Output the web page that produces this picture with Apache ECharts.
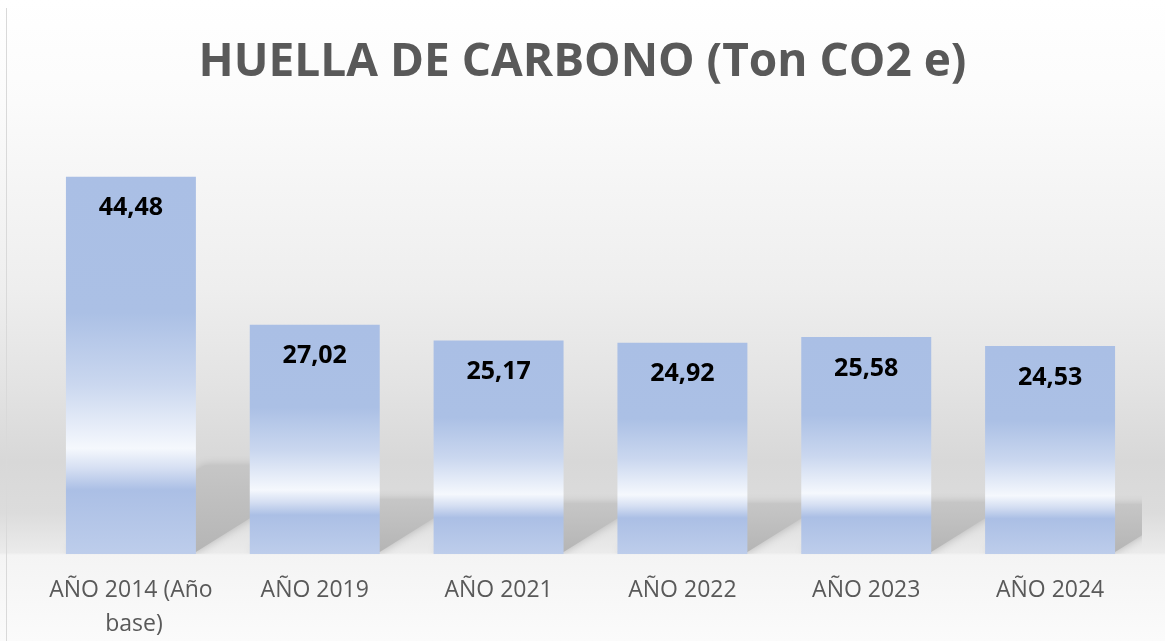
<!DOCTYPE html>
<html>
<head>
<meta charset="utf-8">
<script src="https://cdn.jsdelivr.net/npm/echarts@6/dist/echarts.min.js"></script>
<style>
  html, body { margin: 0; padding: 0; background: #ffffff; }
  #chart { width: 1165px; height: 641px; }
</style>
</head>
<body>
<div id="chart"></div>
<script>
const titleText = 'HUELLA DE CARBONO (Ton CO2 e)';
const categories = ['AÑO 2014 (Año base)', 'AÑO 2019', 'AÑO 2021', 'AÑO 2022', 'AÑO 2023', 'AÑO 2024'];
const values = [44.48, 27.02, 25.17, 24.92, 25.58, 24.53];
const axisMin = 0;
const axisMax = 50;

const chart = echarts.init(document.getElementById('chart'), null, { renderer: 'canvas' });

const barFill = new echarts.graphic.LinearGradient(0, 0, 0, 1, [
  { offset: 0, color: '#aabfe5' },
  { offset: 0.36, color: '#abc0e5' },
  { offset: 0.55, color: '#cad7ef' },
  { offset: 0.72, color: '#f5f8fd' },
  { offset: 0.775, color: '#d4def2' },
  { offset: 0.83, color: '#abbfe5' },
  { offset: 1, color: '#bdcdeb' }
]);

const BAR_RATIO = 0.707;

const option = {
  animation: false,
  graphic: [
    {
      type: 'rect', z: -100, silent: true,
      shape: { x: 0, y: 0, width: 1165, height: 641 },
      style: {
        fill: new echarts.graphic.LinearGradient(0, 0, 0, 1, [
          { offset: 0, color: '#ffffff' },
          { offset: 0.16, color: '#fbfbfb' },
          { offset: 0.45, color: '#eeeeee' },
          { offset: 0.6, color: '#e3e3e3' },
          { offset: 0.72, color: '#d8d8d8' },
          { offset: 0.8, color: '#dcdcdc' },
          { offset: 0.862, color: '#ebebeb' },
          { offset: 0.866, color: '#f4f4f4' },
          { offset: 1, color: '#fbfbfb' }
        ])
      }
    },
    {
      type: 'line', z: -99, silent: true,
      shape: { x1: 6.5, y1: 8, x2: 6.5, y2: 641 },
      style: { stroke: '#d9d9d9', lineWidth: 1 }
    }
  ],
  title: {
    text: titleText,
    left: 'center',
    top: 35,
    textStyle: {
      fontFamily: 'Open Sans',
      fontWeight: 'bold',
      fontSize: 46,
      color: '#595959'
    }
  },
  grid: { left: 39, right: 23, top: 130, bottom: 87, containLabel: false },
  xAxis: {
    type: 'category',
    data: categories,
    axisLine: { show: false },
    axisTick: { show: false },
    splitLine: { show: false },
    axisLabel: {
      interval: 0,
      margin: 19,
      fontFamily: 'Open Sans',
      fontSize: 23,
      lineHeight: 34,
      color: '#595959',
      width: 180,
      overflow: 'break'
    }
  },
  yAxis: {
    type: 'value',
    min: axisMin,
    max: axisMax,
    show: false,
    splitLine: { show: false }
  },
  series: [
    {
      type: 'custom',
      z: 1,
      silent: true,
      clip: true,
      data: values.map((v, i) => [i, v]),
      renderItem: function (params, api) {
        const idx = api.value(0);
        const v = api.value(1);
        const base = api.coord([idx, 0]);
        const top = api.coord([idx, v]);
        const band = api.size([1, 0])[0];
        const w = band * BAR_RATIO;
        const xL = base[0] - w / 2;
        const xR = base[0] + w / 2;
        const h = base[1] - top[1];
        const hs = h * 0.23;
        const sk = hs * 1.6;
        const b = base[1] - 2;
        return {
          type: 'polygon',
          shape: { points: [[xL, b], [xR, b], [xR + sk, b - hs], [xL + sk, b - hs]] },
          style: {
            fill: new echarts.graphic.LinearGradient(0, 0, 0, 1, [
              { offset: 0, color: '#c6c6c6' },
              { offset: 1, color: '#b5b5b5' }
            ]),
            shadowBlur: 10,
            shadowColor: 'rgba(175,175,175,0.9)'
          }
        };
      }
    },
    {
      type: 'bar',
      z: 2,
      data: values,
      barWidth: (BAR_RATIO * 100) + '%',
      itemStyle: { color: barFill },
      label: {
        show: true,
        position: 'insideTop',
        distance: 19,
        fontFamily: 'Open Sans',
        fontWeight: 'bold',
        fontSize: 25,
        color: '#000000',
        formatter: function (p) { return p.value.toFixed(2).replace('.', ','); }
      }
    }
  ]
};

chart.setOption(option);
</script>
</body>
</html>
